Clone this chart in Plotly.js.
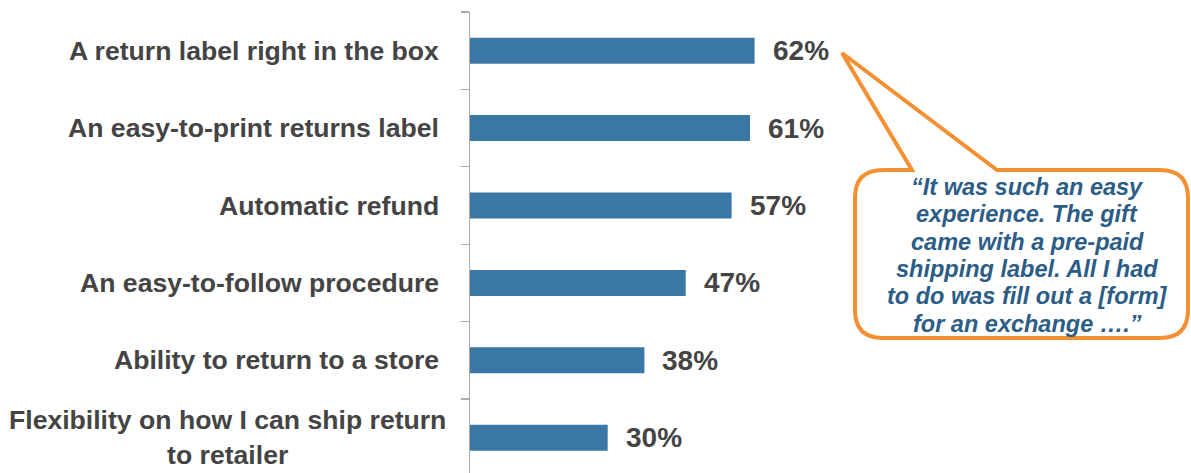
<!DOCTYPE html>
<html>
<head>
<meta charset="utf-8">
<script src="https://cdn.plot.ly/plotly-3.0.1.min.js"></script>
<style>html,body{margin:0;padding:0;background:#fff;}#chart{width:1191px;height:473px;}</style>
</head>
<body>
<div id="chart"></div>
<script>
// ---- Data ----
const categories = [
  "A return label right in the box",
  "An easy-to-print returns label",
  "Automatic refund",
  "An easy-to-follow procedure",
  "Ability to return to a store",
  "Flexibility on how I can ship return<br>to retailer"
];
const values = [62, 61, 57, 47, 38, 30];
const valueLabels = ["62%", "61%", "57%", "47%", "38%", "30%"];
const quoteLines = [
  "“It was such an easy",
  "experience. The gift",
  "came with a pre-paid",
  "shipping label. All I had",
  "to do was fill out a [form]",
  "for an exchange ….”"
];

// ---- Layout constants ----
const W = 1191, H = 473;
const M = {l: 470, r: 1, t: 12, b: 0};
const PW = W - M.l - M.r, PH = H - M.t - M.b;
const FONT = "Arial, 'Liberation Sans', sans-serif";
const GREY = "#444444";
const ORANGE = "#F39132";

// convert page pixels to paper coords (for the decorative callout only)
function px(x) { return (x - M.l) / PW; }
function py(y) { return 1 - (y - M.t) / PH; }

// callout geometry (pixels)
const L = 855, R = 1188, T = 170, B = 338, r = 28;
const tip = [842, 53], a1 = 912, a2 = 997;
function pt(x, y) { return px(x).toFixed(5) + "," + py(y).toFixed(5); }
const calloutPath =
  "M" + pt(L + r, T) + " L" + pt(a1, T) + " L" + pt(tip[0], tip[1]) + " L" + pt(a2, T) +
  " L" + pt(R - r, T) + " Q" + pt(R, T) + " " + pt(R, T + r) +
  " L" + pt(R, B - r) + " Q" + pt(R, B) + " " + pt(R - r, B) +
  " L" + pt(L + r, B) + " Q" + pt(L, B) + " " + pt(L, B - r) +
  " L" + pt(L, T + r) + " Q" + pt(L, T) + " " + pt(L + r, T) + " Z";

const trace = {
  type: "bar",
  orientation: "h",
  x: values,
  y: categories,
  width: 0.336,
  marker: {color: "#3A77A4"},
  hoverinfo: "none"
};

const annotations = [];
categories.forEach((c, i) => {
  const multiLine = c.indexOf("<br>") >= 0;
  annotations.push({
    xref: "paper", yref: "y", x: 0, y: c, xanchor: "right", yanchor: "middle",
    xshift: multiLine ? -22 : -29, showarrow: false, align: "center", text: c,
    font: {family: FONT, size: 26.6, color: GREY, weight: "bold"}
  });
  annotations.push({
    xref: "x", yref: "y", x: values[i], y: c, xanchor: "left", yanchor: "middle",
    xshift: 16, showarrow: false, text: valueLabels[i],
    font: {family: FONT, size: 28, color: GREY, weight: "bold"}
  });
});
quoteLines.forEach((t, i) => {
  annotations.push({
    xref: "paper", yref: "paper", x: px(1027), y: py(187 + i * 27.3),
    xanchor: "center", yanchor: "middle", showarrow: false, text: t,
    font: {family: FONT, size: 23.5, color: "#2C5D86", weight: "bold", style: "italic"}
  });
});

const layout = {
  width: W, height: H,
  margin: M,
  paper_bgcolor: "#fff", plot_bgcolor: "#fff",
  showlegend: false,
  xaxis: {visible: false, range: [0, PW / 4.59], fixedrange: true},
  yaxis: {
    type: "category",
    range: [-0.5 + PH / 77.4, -0.5],
    showline: true, linecolor: "#ABABAB", linewidth: 1.3,
    ticks: "outside", ticklen: 8, tickcolor: "#ABABAB", tickwidth: 1.3,
    tickson: "boundaries",
    showticklabels: false, showgrid: false, zeroline: false, fixedrange: true
  },
  annotations: annotations,
  shapes: [{
    type: "path", xref: "paper", yref: "paper", path: calloutPath,
    line: {color: ORANGE, width: 4}, fillcolor: "rgba(0,0,0,0)", layer: "above"
  }]
};

Plotly.newPlot("chart", [trace], layout, {displayModeBar: false, staticPlot: true});
</script>
</body>
</html>
